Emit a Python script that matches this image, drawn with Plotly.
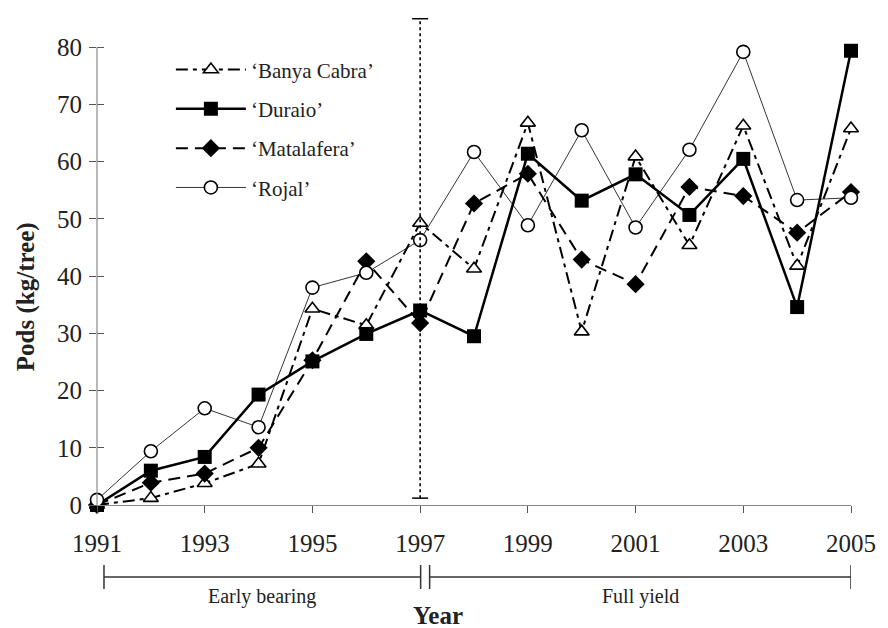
import plotly.graph_objects as go

years = list(range(1991, 2006))
banya_cabra = [0, 1.2, 3.8, 7.2, 34.3, 31.4, 49.3, 41.3, 66.8, 30.3, 60.9, 45.4, 66.3, 41.8, 65.8]
duraio = [0, 6.0, 8.4, 19.3, 25.1, 29.9, 34.0, 29.5, 61.4, 53.2, 57.8, 50.7, 60.5, 34.6, 79.4]
matalafera = [0, 3.9, 5.5, 10.0, 25.3, 42.6, 31.8, 52.7, 57.9, 42.9, 38.6, 55.6, 54.0, 47.6, 54.7]
rojal = [0.9, 9.4, 16.9, 13.6, 38.0, 40.6, 46.3, 61.7, 48.9, 65.5, 48.5, 62.1, 79.2, 53.3, 53.7]

x_ticks = [1991, 1993, 1995, 1997, 1999, 2001, 2003, 2005]
y_ticks = [0, 10, 20, 30, 40, 50, 60, 70, 80]
divider_year = 1997
divider_span = [1.2, 85]
periods = ["Early bearing", "Full yield"]
period_start = [1991, 1997]
period_end = [1997, 2005]

FONT = "Liberation Serif, Times New Roman, Tinos, serif"
fig = go.Figure()

series = [
    ("\u2018Banya Cabra\u2019", banya_cabra, dict(color="black", width=2, dash="12px,5px,4px,5px"),
     dict(symbol="triangle-up", size=13, color="white", line=dict(color="black", width=1.6))),
    ("\u2018Duraio\u2019", duraio, dict(color="black", width=2.5),
     dict(symbol="square", size=14, color="black", line=dict(color="black", width=0))),
    ("\u2018Matalafera\u2019", matalafera, dict(color="black", width=2, dash="12px,7px"),
     dict(symbol="diamond", size=14, color="black", line=dict(color="black", width=0))),
    ("\u2018Rojal\u2019", rojal, dict(color="black", width=0.8),
     dict(symbol="circle", size=13, color="white", line=dict(color="black", width=1.6))),
]
for i, (name, vals, ln, mk) in enumerate(series):
    fig.add_trace(go.Scatter(x=years, y=vals, name=name, mode="lines+markers",
                             line=ln, marker=mk, cliponaxis=False, legendgroup=str(i)))

# invisible trace for the overlay axis (inside ticks)
fig.add_trace(go.Scatter(x=[years[0]], y=[0], yaxis="y2", mode="markers",
                         marker=dict(opacity=0), showlegend=False, hoverinfo="skip"))

# divider line
fig.add_shape(type="line", xref="x", yref="y", x0=divider_year, x1=divider_year,
              y0=divider_span[0], y1=divider_span[1], line=dict(color="black", width=1.6, dash="dot"))
for yv in divider_span:
    fig.add_shape(type="line", xref="x", yref="y", xsizemode="pixel", xanchor=divider_year,
                  x0=-8, x1=8, y0=yv, y1=yv, line=dict(color="black", width=1.5))

# y axis line (only up to 80)
fig.add_shape(type="line", xref="paper", yref="y", x0=0, x1=0, y0=0, y1=y_ticks[-1],
              line=dict(color="#8a8a8a", width=1.2))

# period brackets below axis
def py(p):
    return (505 - p) / 492.0

px_per_year = 54.0
offsets = [(7, 0.5), (9.5, 0)]
for name, s, e, (o0, o1) in zip(periods, period_start, period_end, offsets):
    a = s + o0 / px_per_year
    b = e + o1 / px_per_year
    fig.add_shape(type="line", xref="x", yref="paper", x0=a, x1=b, y0=py(577), y1=py(577),
                  line=dict(color="#333", width=1.5))
    for xv in (a, b):
        fig.add_shape(type="line", xref="x", yref="paper", x0=xv, x1=xv, y0=py(565), y1=py(589),
                      line=dict(color="#333", width=1.5))
    fig.add_annotation(x=(a + b) / 2, y=py(596), xref="x", yref="paper", text=name,
                       showarrow=False, font=dict(family=FONT, size=20, color="#222"),
                       xanchor="center", yanchor="middle")

fig.add_annotation(x=(439 - 97) / 756, y=py(615), xref="paper", yref="paper", text="<b>Year</b>",
                   showarrow=False, font=dict(family=FONT, size=25, color="#222"),
                   xanchor="center", yanchor="middle")
fig.add_annotation(x=(26 - 97) / 756, y=py(297), xref="paper", yref="paper",
                   text="<b>Pods (kg/tree)</b>", textangle=-90,
                   showarrow=False, font=dict(family=FONT, size=25, color="#222"),
                   xanchor="center", yanchor="middle")

fig.update_layout(
    width=888, height=628,
    margin=dict(l=97, r=35, t=13, b=123),
    paper_bgcolor="white", plot_bgcolor="white",
    font=dict(family=FONT, color="#222"),
    showlegend=True,
    legend=dict(x=0.098, y=0.926, xanchor="left", yanchor="top", bgcolor="rgba(0,0,0,0)",
                font=dict(family=FONT, size=21, color="#222"), itemwidth=70,
                tracegroupgap=9),
    xaxis=dict(range=[1991, 2005], tickvals=x_ticks, ticks="outside", ticklen=7, tickcolor="#555",
               showline=True, linecolor="#8a8a8a", linewidth=1.2, showgrid=False, zeroline=False,
               ticklabelstandoff=9,
               tickfont=dict(family=FONT, size=25, color="#222")),
    yaxis=dict(range=[0, 86], tickvals=y_ticks, ticks="outside", ticklen=7, tickcolor="#555",
               showline=False, showgrid=False, zeroline=False, ticklabelstandoff=2,
               tickfont=dict(family=FONT, size=25, color="#222")),
    yaxis2=dict(range=[0, 86], overlaying="y", side="left", tickvals=y_ticks, ticks="inside",
                ticklen=7, tickcolor="#555", showticklabels=False, showline=False,
                showgrid=False, zeroline=False),
)

fig.write_html("out.html", post_script="document.body.style.margin='0';",
               config={"displayModeBar": False})
